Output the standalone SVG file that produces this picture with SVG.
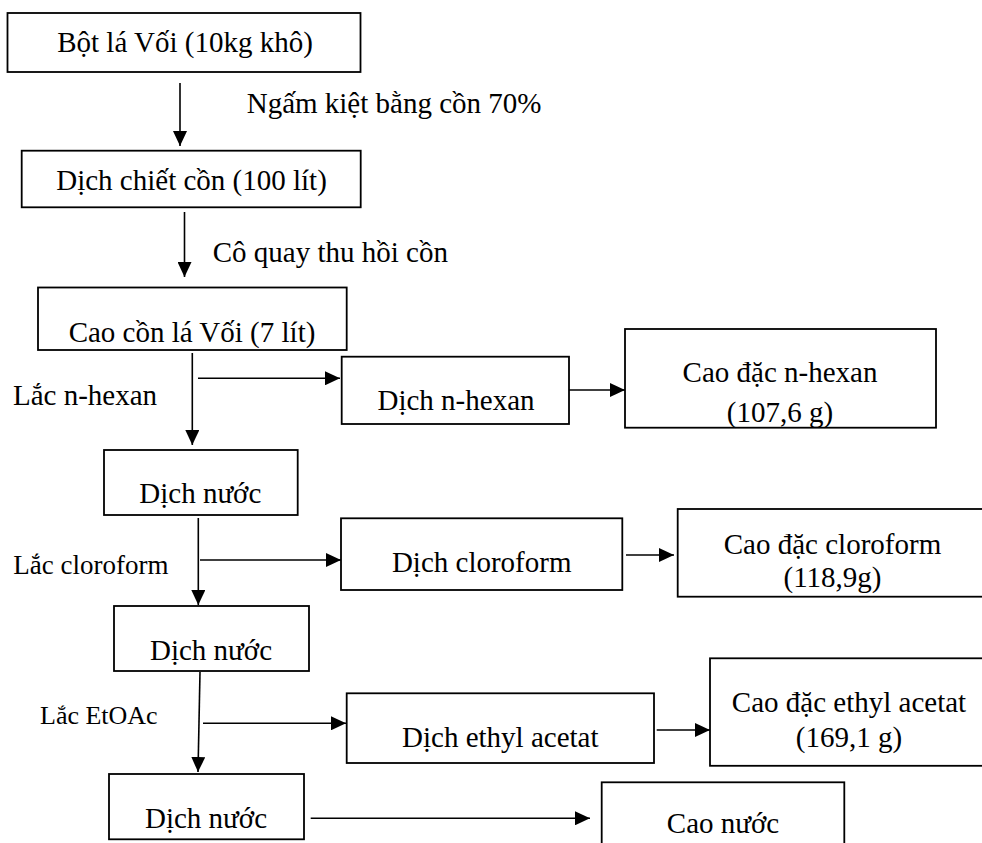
<svg xmlns="http://www.w3.org/2000/svg" width="982" height="843" viewBox="0 0 982 843">
<style>
.box{fill:#fff;stroke:#000;stroke-width:1.8}
.t{font-family:"Liberation Serif","Times New Roman",serif;font-size:29px;fill:#000}
.c{text-anchor:middle}
.s27{font-size:27px}
.s26{font-size:26px}
.ln{fill:none;stroke:#000;stroke-width:1.6;marker-end:url(#ah)}
</style>
<defs>
<marker id="ah" markerUnits="userSpaceOnUse" markerWidth="15" markerHeight="14" viewBox="0 0 15 14" refX="15" refY="7" orient="auto">
<path d="M0,0 L15,7 L0,14 z" fill="#000"/>
</marker>
</defs>
<rect width="982" height="843" fill="#fff"/>
<g id="connectors">
<line class="ln" x1="180" y1="83" x2="180" y2="146"/>
<line class="ln" x1="184.5" y1="212" x2="184.5" y2="277"/>
<line class="ln" x1="192.3" y1="353" x2="192.3" y2="445"/>
<line class="ln" x1="198" y1="378.3" x2="340" y2="378.3"/>
<line class="ln" x1="569" y1="390" x2="625" y2="390"/>
<line class="ln" x1="198.3" y1="518" x2="198.3" y2="605"/>
<line class="ln" x1="200" y1="560" x2="341" y2="560"/>
<line class="ln" x1="626" y1="555" x2="674" y2="555"/>
<line class="ln" x1="200" y1="672" x2="198" y2="772"/>
<line class="ln" x1="203" y1="723.3" x2="346" y2="723.3"/>
<line class="ln" x1="656.7" y1="730" x2="710" y2="730"/>
<line class="ln" x1="310.7" y1="818.3" x2="590" y2="818.3"/>
</g>
<g id="labels">
<text class="t" x="246.7" y="113">Ngấm kiệt bằng cồn 70%</text>
<text class="t" x="212.7" y="261.7">Cô quay thu hồi cồn</text>
<text class="t" x="13" y="405">Lắc n-hexan</text>
<text class="t s27" x="13.3" y="574">Lắc cloroform</text>
<text class="t s26" x="40" y="724">Lắc EtOAc</text>
</g>
<g id="n1"><rect class="box" x="7.5" y="13" width="353" height="59"/><text class="t c" x="185" y="52">Bột lá Vối (10kg khô)</text></g>
<g id="n2"><rect class="box" x="21.7" y="150.7" width="339" height="56.6"/><text class="t c" x="191.5" y="190">Dịch chiết cồn (100 lít)</text></g>
<g id="n3"><rect class="box" x="38" y="287.5" width="308.7" height="62.5"/><text class="t c" x="192" y="341.7">Cao cồn lá Vối (7 lít)</text></g>
<g id="n4"><rect class="box" x="341.7" y="356.7" width="227.3" height="67.3"/><text class="t c" x="456" y="410">Dịch n-hexan</text></g>
<g id="n5"><rect class="box" x="625" y="329" width="311" height="98.7"/><text class="t c" x="780" y="382">Cao đặc n-hexan</text><text class="t c" x="780" y="422">(107,6 g)</text></g>
<g id="n6"><rect class="box" x="104" y="450" width="193.7" height="65"/><text class="t c" x="200.3" y="502.7">Dịch nước</text></g>
<g id="n7"><rect class="box" x="341" y="518.3" width="281.3" height="71.7"/><text class="t c" x="481.7" y="572.3">Dịch cloroform</text></g>
<g id="n8"><rect class="box" x="677.7" y="509" width="320" height="87.7"/><text class="t c" x="832.5" y="554">Cao đặc cloroform</text><text class="t c" x="832.5" y="587">(118,9g)</text></g>
<g id="n9"><rect class="box" x="114" y="606" width="195" height="65"/><text class="t c" x="211" y="660">Dịch nước</text></g>
<g id="n10"><rect class="box" x="346.7" y="693.3" width="307.3" height="69.7"/><text class="t c" x="500.3" y="746.7">Dịch ethyl acetat</text></g>
<g id="n11"><rect class="box" x="710" y="658.3" width="300" height="107.5"/><text class="t c" x="849" y="711.7">Cao đặc ethyl acetat</text><text class="t c" x="849" y="746.7">(169,1 g)</text></g>
<g id="n12"><rect class="box" x="109" y="774" width="195" height="65.3"/><text class="t c" x="206" y="828">Dịch nước</text></g>
<g id="n13"><rect class="box" x="601.7" y="782.3" width="242.6" height="80"/><text class="t c" x="723" y="833.3">Cao nước</text></g>
</svg>
